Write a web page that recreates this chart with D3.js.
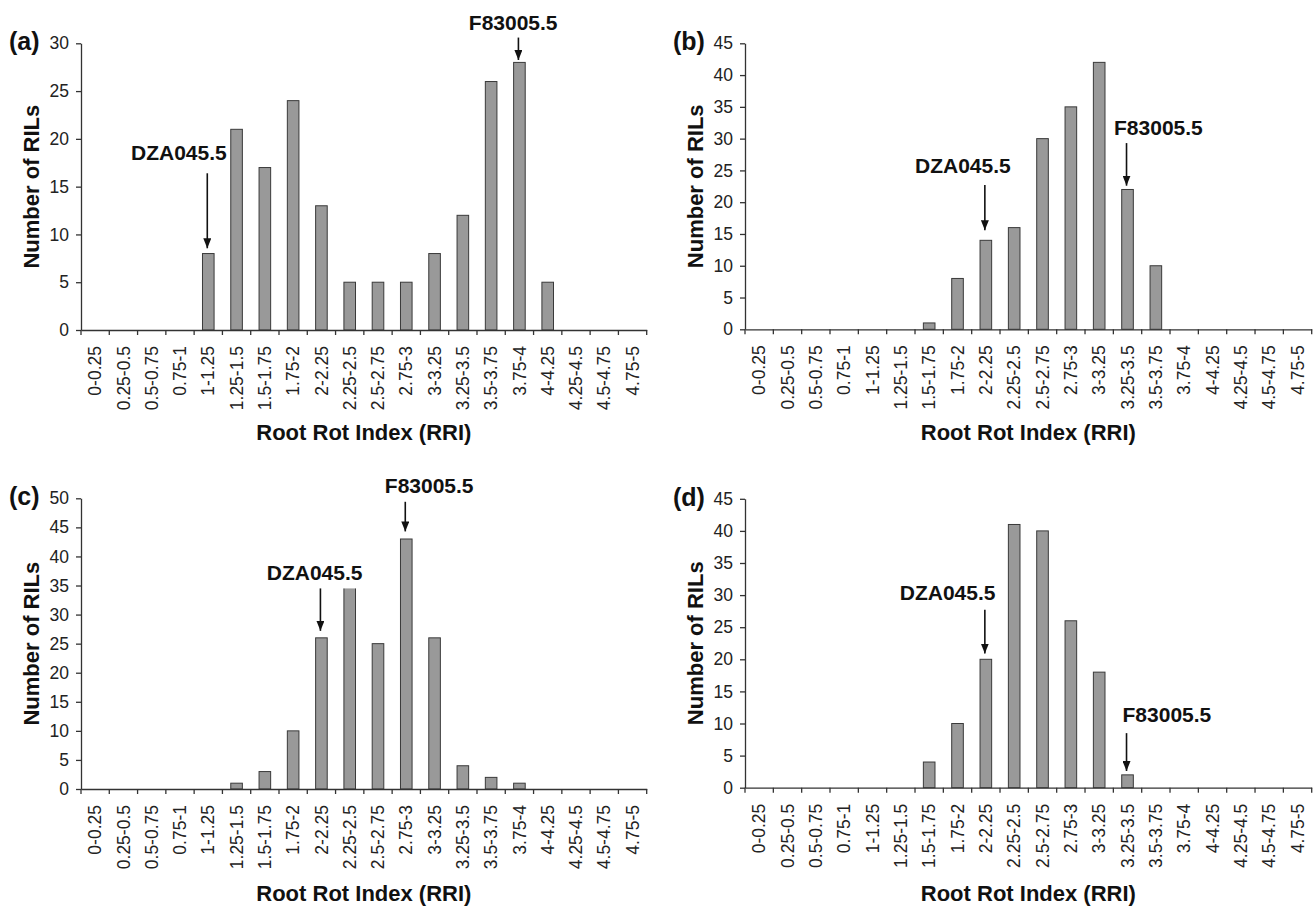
<!DOCTYPE html>
<html>
<head>
<meta charset="utf-8">
<script src="https://cdn.jsdelivr.net/npm/d3@7"></script>
<style>
  body { margin: 0; background: #fff; }
  svg { display: block; font-family: "Liberation Sans", Arial, Helvetica, sans-serif; }
</style>
</head>
<body>
<div id="chart"></div>
<script>
// RRI classes (x categories shared by all four panels)
const categories = ["0-0.25", "0.25-0.5", "0.5-0.75", "0.75-1", "1-1.25", "1.25-1.5", "1.5-1.75",
  "1.75-2", "2-2.25", "2.25-2.5", "2.5-2.75", "2.75-3", "3-3.25", "3.25-3.5", "3.5-3.75",
  "3.75-4", "4-4.25", "4.25-4.5", "4.5-4.75", "4.75-5"];

// number of RILs per class
const valuesA = [0, 0, 0, 0, 8, 21, 17, 24, 13, 5, 5, 5, 8, 12, 26, 28, 5, 0, 0, 0];
const valuesB = [0, 0, 0, 0, 0, 0, 1, 8, 14, 16, 30, 35, 42, 22, 10, 0, 0, 0, 0, 0];
const valuesC = [0, 0, 0, 0, 0, 1, 3, 10, 26, 36, 25, 43, 26, 4, 2, 1, 0, 0, 0, 0];
const valuesD = [0, 0, 0, 0, 0, 0, 4, 10, 20, 41, 40, 26, 18, 2, 0, 0, 0, 0, 0, 0];

const yMaxes = [30, 45, 50, 45];
const panelLetters = ["(a)", "(b)", "(c)", "(d)"];

// parent lines marked on each histogram
// labelAt / arrowFrom / arrowTo are in RIL units, shift is in class widths
const annotationsA = [
  { text: "DZA045.5", cat: "1-1.25", shift: -1.04, labelAt: 17.8, arrowFrom: 16.4, arrowTo: 8.55 },
  { text: "F83005.5", cat: "3.75-4", shift: -0.22, labelAt: 31.4, arrowFrom: 30.6, arrowTo: 28.25 }
];
const annotationsB = [
  { text: "DZA045.5", cat: "2-2.25", shift: -0.81, labelAt: 24.6, arrowFrom: 22.7, arrowTo: 15.6 },
  { text: "F83005.5", cat: "3.25-3.5", shift: 1.09, labelAt: 30.6, arrowFrom: 29.3, arrowTo: 22.6 }
];
const annotationsC = [
  { text: "DZA045.5", cat: "2-2.25", shift: -0.24, labelAt: 35.9, arrowFrom: 34.5, arrowTo: 27.2 },
  { text: "F83005.5", cat: "2.75-3", shift: 0.81, labelAt: 50.9, arrowFrom: 49.4, arrowTo: 44.3 }
];
const annotationsD = [
  { text: "DZA045.5", cat: "2-2.25", shift: -1.35, labelAt: 29.2, arrowFrom: 27.7, arrowTo: 20.9 },
  { text: "F83005.5", cat: "3.25-3.5", shift: 1.39, labelAt: 10.3, arrowFrom: 8.5, arrowTo: 2.6 }
];

const yTitle = "Number of RILs";
const xTitle = "Root Rot Index (RRI)";

const width = 1314;
const height = 906;

const svg = d3.select("#chart").append("svg")
  .attr("width", width)
  .attr("height", height);

svg.append("defs").append("marker")
  .attr("id", "arrowhead")
  .attr("markerUnits", "userSpaceOnUse")
  .attr("viewBox", "0 0 10 8")
  .attr("refX", 10).attr("refY", 4)
  .attr("markerWidth", 10).attr("markerHeight", 8)
  .attr("orient", "auto")
  .append("path")
  .attr("d", "M0,0 L10,4 L0,8 Z")
  .attr("fill", "#111");

// layout of the 2x2 grid
const panels = [
  { values: valuesA, notes: annotationsA, left: 81, right: 646.7, top: 43.3, bottom: 330, titleY: 440 },
  { values: valuesB, notes: annotationsB, left: 745, right: 1311.7, top: 43.3, bottom: 329.3, titleY: 440 },
  { values: valuesC, notes: annotationsC, left: 81, right: 646.7, top: 498.3, bottom: 789, titleY: 901 },
  { values: valuesD, notes: annotationsD, left: 745, right: 1311.7, top: 498.8, bottom: 787.7, titleY: 901 }
];

panels.forEach((p, i) => drawPanel(p, yMaxes[i], panelLetters[i]));

function drawPanel(p, yMax, letter) {
  const g = svg.append("g");

  const x = d3.scaleBand()
    .domain(categories)
    .range([p.left, p.right])
    .paddingInner(0.59)
    .paddingOuter(0.295);

  const y = d3.scaleLinear()
    .domain([0, yMax])
    .range([p.bottom, p.top]);

  const rows = categories.map((c, k) => ({ cat: c, value: p.values[k] }));

  // bars
  g.selectAll("rect.bar")
    .data(rows.filter(d => d.value > 0))
    .join("rect")
    .attr("class", "bar")
    .attr("x", d => x(d.cat))
    .attr("width", x.bandwidth())
    .attr("y", d => y(d.value))
    .attr("height", d => y(0) - y(d.value))
    .attr("fill", "#999999")
    .attr("stroke", "#3a3a3a")
    .attr("stroke-width", 1);

  // y axis
  const yAxis = g.append("g")
    .attr("transform", `translate(${p.left},0)`)
    .call(d3.axisLeft(y).tickValues(d3.range(0, yMax + 1, 5)).tickSize(5).tickSizeOuter(0).tickPadding(7));
  yAxis.selectAll("text")
    .attr("font-size", "17.5px")
    .attr("fill", "#222")
    .style("font-family", "inherit");
  yAxis.selectAll("line, path").attr("stroke", "#333").attr("stroke-width", 1.3);

  // x axis: labels at class centres, ticks on class boundaries
  const xAxis = g.append("g")
    .attr("transform", `translate(0,${p.bottom})`)
    .call(d3.axisBottom(x).tickSize(0).tickSizeOuter(0));
  xAxis.select(".domain").attr("stroke", "#333").attr("stroke-width", 1.3);
  xAxis.selectAll("text")
    .attr("transform", "rotate(-90)")
    .attr("x", -16)
    .attr("y", 0)
    .attr("dy", "0.35em")
    .attr("text-anchor", "end")
    .attr("font-size", "17.5px")
    .attr("fill", "#222")
    .style("font-family", "inherit");

  const bounds = categories.map(c => x(c) + x.bandwidth() / 2 - x.step() / 2).concat([p.right]);
  xAxis.selectAll("line.bound")
    .data(bounds)
    .join("line")
    .attr("class", "bound")
    .attr("x1", d => d).attr("x2", d => d)
    .attr("y1", 0).attr("y2", 5)
    .attr("stroke", "#333")
    .attr("stroke-width", 1.3);

  // axis titles and panel letter
  g.append("text")
    .attr("transform", `translate(${p.left - 42},${(p.top + p.bottom) / 2}) rotate(-90)`)
    .attr("text-anchor", "middle")
    .attr("font-size", "22px")
    .attr("font-weight", "bold")
    .attr("fill", "#111")
    .text(yTitle);

  g.append("text")
    .attr("x", (p.left + p.right) / 2)
    .attr("y", p.titleY)
    .attr("text-anchor", "middle")
    .attr("font-size", "22px")
    .attr("font-weight", "bold")
    .attr("fill", "#111")
    .text(xTitle);

  g.append("text")
    .attr("x", p.left - 72)
    .attr("y", p.top + 7)
    .attr("font-size", "25px")
    .attr("font-weight", "bold")
    .attr("fill", "#111")
    .text(letter);

  // parent annotations
  p.notes.forEach(n => {
    const cx = x(n.cat) + x.bandwidth() / 2;
    const label = g.append("text")
      .attr("x", cx + n.shift * x.step())
      .attr("y", y(n.labelAt))
      .attr("text-anchor", "middle")
      .attr("font-size", "21px")
      .attr("font-weight", "bold")
      .attr("fill", "#111")
      .text(n.text);
    const bb = label.node().getBBox();
    // opaque label box, as in the original figure
    g.insert("rect", function () { return label.node(); })
      .attr("x", bb.x - 2)
      .attr("y", bb.y)
      .attr("width", bb.width + 4)
      .attr("height", y(n.arrowFrom) - bb.y)
      .attr("fill", "#fff");
    g.append("line")
      .attr("x1", cx - 1).attr("y1", y(n.arrowFrom))
      .attr("x2", cx - 1).attr("y2", y(n.arrowTo))
      .attr("stroke", "#111")
      .attr("stroke-width", 1.6)
      .attr("marker-end", "url(#arrowhead)");
  });
}
</script>
</body>
</html>
